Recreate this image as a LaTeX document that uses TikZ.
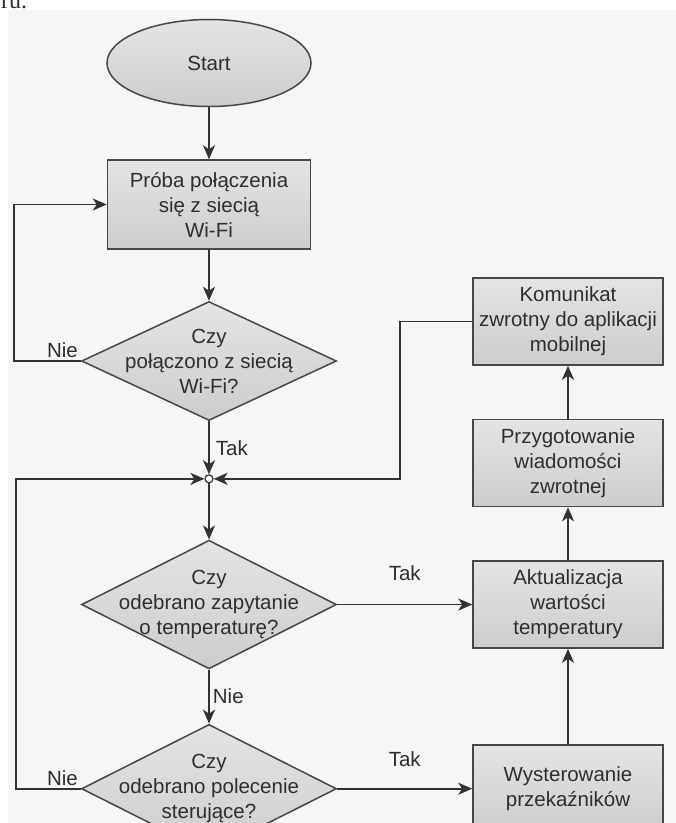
\documentclass[tikz,border=0pt]{standalone}
\usepackage{fontspec}
\setmainfont{Liberation Sans}
\newfontfamily\pagefont{Liberation Serif}
\usetikzlibrary{shapes.geometric, arrows.meta, positioning}
\definecolor{FlowLine}{RGB}{50, 50, 50}
\definecolor{FlowBorder}{RGB}{70, 70, 70}
\definecolor{FlowTop}{RGB}{228, 228, 228}
\definecolor{FlowBottom}{RGB}{205, 205, 205}
\definecolor{PanelGray}{RGB}{246, 246, 246}

\begin{document}
\begin{tikzpicture}[
    x=1pt, y=-1pt,
    node distance=53pt and 135pt,
    every node/.style={font=\fontsize{20.5}{25}\selectfont, align=center, text=black!82},
    startbox/.style={ellipse, draw=FlowBorder, top color=FlowTop, bottom color=FlowBottom, line width=1.5pt, minimum width=204pt, minimum height=87pt},
    procbox/.style={rectangle, draw=FlowBorder, top color=FlowTop, bottom color=FlowBottom, line width=1.5pt, minimum width=190pt, minimum height=87pt, inner sep=2pt},
    decbox/.style={diamond, draw=FlowBorder, top color=FlowTop, bottom color=FlowBottom, line width=1.5pt, minimum width=255pt, minimum height=119pt, inner xsep=-40pt, inner ysep=-20pt},
    joinpt/.style={circle, draw=FlowLine, fill=white, line width=1.2pt, inner sep=0pt, minimum size=8pt},
    arrow/.style={-{Stealth[length=14pt, width=12pt, inset=4pt]}, draw=FlowLine, line width=1.8pt}
  ]
    \useasboundingbox (0,0) rectangle (676,823);
    \fill[PanelGray] (8,10) rectangle (676,823);
    \node[font=\pagefont\fontsize{24}{24}\selectfont, anchor=base west, inner sep=0pt] (pagetext) at (1,8) {ru.};

    % Left column: connection and request checks
    \node[startbox] (start) at (209,63) {Start};
    \node[procbox, minimum width=203pt, minimum height=89pt, below=52pt of start] (try) {Próba połączenia\\się z siecią\\Wi-Fi};
    \node[decbox, below=51pt of try] (conn) {Czy\\połączono z siecią\\Wi-Fi?};
    \node[joinpt, below=53pt of conn] (join) {};
    \node[decbox, below=56pt of join] (query) {Czy\\odebrano zapytanie\\o temperaturę?};
    \node[decbox, below=54pt of query] (cmd) {Czy\\odebrano polecenie\\sterujące?};

    % Right column: actions and reply
    \node[procbox, right=135pt of query] (update) {Aktualizacja\\wartości\\temperatury};
    \node[procbox, right=135pt of cmd] (relays) {Wysterowanie\\przekaźników};
    \node[procbox, above=53pt of update] (prepare) {Przygotowanie\\wiadomości\\zwrotnej};
    \node[procbox, above=53pt of prepare] (reply) {Komunikat\\zwrotny do aplikacji\\mobilnej};

    % Connections
    \draw[arrow] (start) -- (try);
    \draw[arrow] (try) -- (conn);
    \draw[arrow] (conn.west) node[above left, inner sep=2pt] {Nie} -- ++(-67,0) |- (try.west);
    \draw[arrow] (conn.south) -- node[right, inner sep=6pt] {Tak} (join.north);
    \draw[arrow] (join.south) -- (query.north);
    \draw[arrow] (query.east) -- node[above=20pt] {Tak} (update.west);
    \draw[arrow] (query.south) -- node[right, inner sep=3pt] {Nie} (cmd.north);
    \draw[arrow] (cmd.east) -- node[above=18pt] {Tak} (relays.west);
    \draw[arrow] (cmd.west) node[above left, inner sep=2pt] {Nie} -- ++(-65,0) |- (join.west);
    \draw[arrow] (relays) -- (update);
    \draw[arrow] (update) -- (prepare);
    \draw[arrow] (prepare) -- (reply);
    \draw[arrow] (reply.west) -- ++(-72,0) |- (join.east);
  \end{tikzpicture}
\end{document}
